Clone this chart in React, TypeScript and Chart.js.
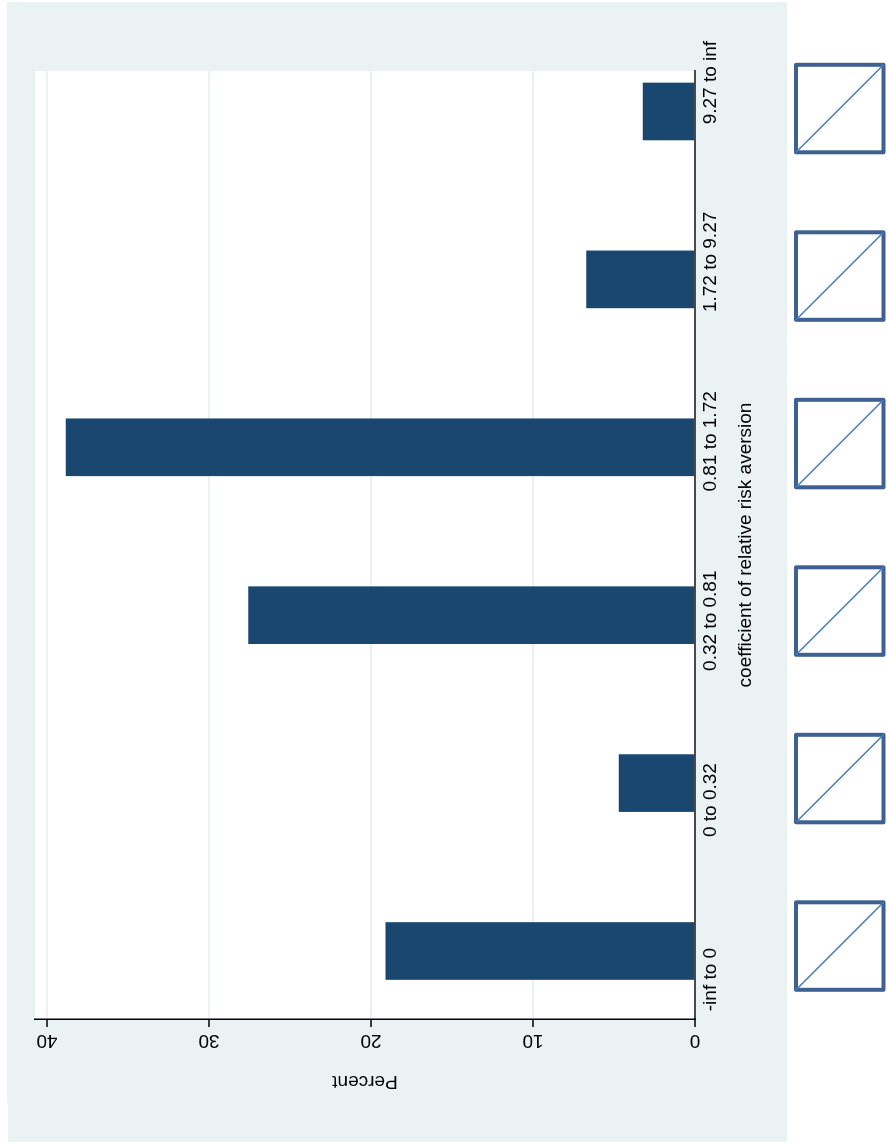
import React, { useEffect, useRef } from "react";
import { Chart, registerables } from "chart.js";

Chart.register(...registerables);

const categories = ["-inf to 0", "0 to 0.32", "0.32 to 0.81", "0.81 to 1.72", "1.72 to 9.27", "9.27 to inf"];
const percentValues = [19.08, 4.68, 27.55, 38.82, 6.7, 3.2];
const percentTicks = [0, 10, 20, 30, 40];
// Where the category labels sit on the bar axis: the reference spaces them wider than the bars.
const categoryLabelPositions = [-0.17, 0.899, 1.967, 3.035, 4.104, 5.172];
const categoryTitle = "coefficient of relative risk aversion";
const percentTitle = "Percent";

const BG = "#EAF2F3";
const NAVY = "#1A476F";
const FONT = "'Liberation Sans', Arial, sans-serif";
const FONT_SIZE = 19;

const framePlugin = {
  id: "stataFrame",
  beforeDraw(chart: any) {
    const { ctx, chartArea: a } = chart;
    ctx.save();
    ctx.fillStyle = BG;
    ctx.fillRect(2, 8, 39, 779);
    ctx.fillRect(41, 7, 1101, 780);
    ctx.fillStyle = "#FFFFFF";
    ctx.fillRect(a.left, a.top, a.right - a.left, a.bottom - a.top);
    ctx.restore();
  },
};

const keysPlugin = {
  id: "missingKeys",
  afterDraw(chart: any) {
    const { ctx } = chart;
    const size = 87.5;
    const top = 796;
    ctx.save();
    categories.forEach((_, i) => {
      const left = 154.2 + i * 167.5;
      ctx.strokeStyle = "#3E6191";
      ctx.lineWidth = 4;
      ctx.lineJoin = "round";
      ctx.strokeRect(left, top, size, size);
      ctx.strokeStyle = "#4A7EBB";
      ctx.lineWidth = 1.6;
      ctx.beginPath();
      ctx.moveTo(left, top);
      ctx.lineTo(left + size, top + size);
      ctx.stroke();
    });
    ctx.restore();
  },
};

export default function App() {
  const ref = useRef<HTMLCanvasElement | null>(null);

  useEffect(() => {
    const prevMargin = document.body.style.margin;
    document.body.style.margin = "0";
    const chart = new Chart(ref.current as HTMLCanvasElement, {
      type: "bar",
      data: {
        datasets: [
          {
            label: percentTitle,
            data: percentValues.map((v, i) => ({ x: i, y: v })),
            backgroundColor: NAVY,
            borderWidth: 0,
            barThickness: 57,
          },
        ],
      },
      plugins: [framePlugin, keysPlugin],
      options: {
        animation: false,
        responsive: false,
        devicePixelRatio: 1,
        layout: { padding: { left: 0, top: 35, right: 71, bottom: 0 } },
        plugins: { legend: { display: false }, title: { display: false }, tooltip: { enabled: false } },
        scales: {
          x: {
            type: "linear",
            min: -0.405,
            max: 5.241,
            offset: false,
            afterBuildTicks: (s: any) => {
              s.ticks = categoryLabelPositions.map((value) => ({ value }));
            },
            afterFit: (s: any) => {
              s.height = 192;
            },
            grid: { display: false, drawTicks: false },
            border: { display: true, color: "#4A4A4A", width: 2, z: 1 },
            ticks: {
              autoSkip: false,
              maxRotation: 0,
              minRotation: 0,
              padding: 4,
              color: "#000000",
              font: { family: FONT, size: FONT_SIZE },
              callback: (_v: any, i: number) => categories[i],
            },
            title: {
              display: true,
              text: categoryTitle,
              color: "#000000",
              font: { family: FONT, size: FONT_SIZE },
              padding: { top: 0, bottom: 130 },
            },
          },
          y: {
            type: "linear",
            min: 0,
            max: 40.74,
            afterBuildTicks: (s: any) => {
              s.ticks = percentTicks.map((value) => ({ value }));
            },
            afterFit: (s: any) => {
              s.width = 125;
            },
            grid: { color: BG, lineWidth: 2, tickColor: "#000000", tickLength: 8, tickWidth: 1.5 },
            border: { display: true, color: "#000000", width: 1.5, z: 1 },
            ticks: {
              minRotation: 90,
              maxRotation: 90,
              crossAlign: "center",
              padding: 3,
              color: "#000000",
              font: { family: FONT, size: FONT_SIZE },
              callback: (v: any) => String(v),
            },
            title: {
              display: true,
              text: percentTitle,
              color: "#000000",
              font: { family: FONT, size: FONT_SIZE },
              padding: { top: 51, bottom: 0 },
            },
          },
        },
      } as any,
    } as any);
    return () => {
      chart.destroy();
      document.body.style.margin = prevMargin;
    };
  }, []);

  return (
    <div style={{ position: "absolute", left: 0, top: 0, width: 887, height: 1144, overflow: "hidden" }}>
      <canvas
        ref={ref}
        width={1144}
        height={887}
        style={{ position: "absolute", left: 0, top: 1144, transformOrigin: "0 0", transform: "rotate(-90deg)" }}
      />
    </div>
  );
}
